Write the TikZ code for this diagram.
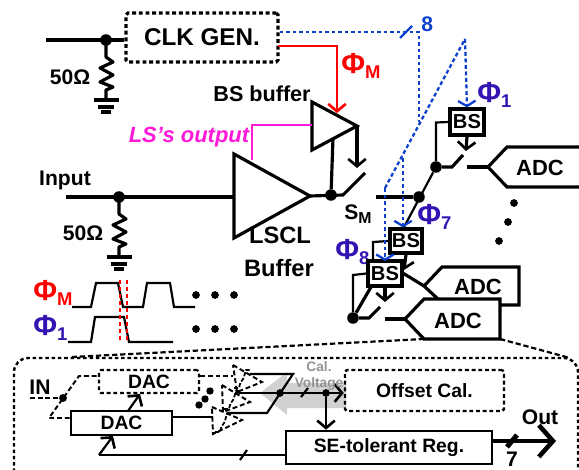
\documentclass[tikz,border=0pt]{standalone}
\usepackage{fontspec}
\setmainfont{Liberation Sans}
\usepackage{xcolor}
\usetikzlibrary{arrows.meta}
\newcommand{\phisub}[1]{{\fontsize{16.5}{16.5}\selectfont Φ}{\fontsize{10.5}{10.5}\selectfont\raisebox{-0.5ex}{#1}}}
\newcommand{\fs}[1]{\fontsize{#1}{#1}\selectfont\bfseries}

\begin{document}
\begin{tikzpicture}
    [%%%%%%%%%%%%%%%%%%%%%%%%%%%%%%
        x=0.02cm,y=-0.02cm,
        wire/.style={line width=1.8pt},
        thinwire/.style={line width=1.25pt},
        tip/.style={-{Straight Barb[length=4.2pt,width=10pt,line width=1.5pt]}},
        box/.style={rectangle,draw=black,line width=1.8pt,fill=white,inner sep=0pt,font=\fs{11}},
        dashbox/.style={box,dash pattern=on 2.2pt off 1.6pt,rounded corners=1pt},
        lab/.style={inner sep=0pt,font=\fs{12}},
        dot/.style={circle,fill=black,inner sep=0pt,minimum size=#1},
        dot/.default=6.6pt,
        clkline/.style={blueclk,line width=1.3pt,dash pattern=on 2.2pt off 1.5pt},
        fine/.style={line width=1.1pt,dash pattern=on 2.8pt off 1.6pt},
        res/.pic={\draw[wire,line join=round] (0,0) -- (0,17) -- (7,22) -- (-6,28) -- (7,35) -- (-6,42) -- (7,47) -- (0,50) -- (0,60);
            \draw[line width=2pt] (-12.5,60) -- (12.5,60) (-8,67) -- (8,67);
            \draw[line width=2.4pt] (-5,72) -- (5,72);},
        squiggle/.pic={\draw[line width=1pt,dash pattern=on 2.4pt off 1pt] (-8,9) -- (-3,9) .. controls (-2,3) and (0,2) .. (1,0) .. controls (3,-2) and (2,-6) .. (4,-9) -- (8,-9);}
    ]%%%%%%%%%%%%%%%%%%%%%%%%%%%%%%
\definecolor{blueclk}{rgb}{0.05, 0.25, 0.8}
\definecolor{phiblue}{rgb}{0.2, 0.08, 0.7}
\definecolor{lsmag}{rgb}{1.0, 0.1, 0.85}
\definecolor{calgray}{rgb}{0.82, 0.82, 0.82}
\useasboundingbox (0,0) rectangle (579,470);

% callout
\coordinate (calltl) at (14,358);
\coordinate (calltr) at (578,358);
\draw[line width=1.4pt,dash pattern=on 2pt off 1.6pt,rounded corners=8pt] (14,472) -- (calltl) -- (calltr) -- (578,472);

% gray arrow
\fill[calgray] (260,393) -- (287,372) -- (287,383) -- (346,383) -- (346,408) -- (287,408) -- (287,415) -- cycle;

% clock generator
\node[dashbox,minimum width=3.04cm,minimum height=0.98cm,font=\fs{13.8}] (clkgen) at (202,37.5) {CLK GEN.};
\coordinate (clkin) at (46,40);
\node[dot] (clknode) at (106,40) {};
\draw[wire] (clkin) -- (clkin -| clkgen.west);
\pic at (clknode) {res};
\node[lab] (clkres) at (70,77) {50Ω};

% input and buffers
\node[lab] (inlabel) at (65,180) {Input};
\coordinate (inpin) at (66,197);
\coordinate (lsa) at (234,154);
\coordinate (lsb) at (234,238);
\coordinate (lsc) at (310,196);
\draw[wire,line join=miter] (lsa) -- (lsc) -- (lsb) -- cycle;
\node[dot] (innode) at (119,197) {};
\draw[wire] (inpin) -- (234,197);
\pic at (innode) {res};
\node[lab] (inres) at (83,233) {50Ω};
\node[lab,font=\fs{13.5}] at (280,235) {LSCL};
\node[lab,font=\fs{13.5}] at (279,268) {Buffer};
\coordinate (bsa) at (312,102);
\coordinate (bsb) at (312,150);
\coordinate (bsc) at (357,126);
\draw[wire] (bsa) -- (bsc) -- (bsb) -- cycle;
\node[lab,font=\fs{12.3},anchor=east] at (311,94) {BS buffer};
\node[lab,text=lsmag,font=\fontsize{12.5}{12.5}\selectfont\bfseries\itshape] at (189,137) {LS’s output};
\draw[lsmag,line width=1.6pt] (252,160) -- (252,125) -- (312,125);
\draw[red,line width=1.3pt,tip] (278,46) -- (337,46) -- (337,113);
\node[lab,text=red,anchor=west] at (341,66) {\phisub{M}};

% master switch
\node[dot] (sumnode) at (331,195) {};
\coordinate (swm) at (343,195);
\draw[wire] (lsc) -- (swm) -- (365,173);
\draw[wire] (333,138) -- (sumnode);
\draw[wire,tip] (bsc) -- (357,168);
\node[lab,anchor=west] at (344,214) {S\fontsize{9}{9}\selectfont\raisebox{-0.4ex}{M}};

% channels
\node[box,minimum width=0.68cm,minimum height=0.52cm] (bsone) at (467,122) {\fs{11.5}BS};
\node[dot] (phinode) at (419,197) {};
\node[dot] (oneode) at (436,167) {};
\coordinate (swone) at (452,167);
\draw[wire] (376,197) -- (phinode);
\draw[thinwire] (bsone.west) -- (436,122.5) -- (oneode);
\draw[wire] (oneode) -- (swone) -- (463,155);
\draw[wire,tip] (bsone.south) -- (466,151);
\draw[thinwire] (oneode) -- (403,229);
\node[lab,text=phiblue,anchor=west] at (477,95) {\phisub{1}};
\node[lab,text=phiblue,anchor=west] at (417,217) {\phisub{7}};
\node[lab,text=phiblue,anchor=west] at (335,252) {\phisub{8}};

% adc one
\coordinate (adconetip) at (488,167);
\draw[wire] (467,167) -- (adconetip);
\draw[wire] (579,147) -- (507,147) -- (adconetip) -- (507,187) -- (579,187);
\node[lab,font=\fs{12.5}] (adcone) at (540,168) {ADC};
\foreach \x/\y in {514/203,508/222,499/241}{
    \node[dot=4.4pt] at (\x,\y) {};
}

% lower bs boxes
\node[box,minimum width=0.64cm,minimum height=0.48cm] (bstwo) at (406,241) {\fs{11.5}BS};
\draw[thinwire] (bstwo.west) -- (373,242) -- (373,262);
\draw[wire,tip] (bstwo.south) -- (404,270);
\node[box,minimum width=0.68cm,minimum height=0.5cm] (bsthree) at (385,273.5) {\fs{11.5}BS};
\node[dot] (lownode) at (353,318) {};
\draw[thinwire] (bsthree.west) -- (353,275) -- (lownode);
\draw[wire] (lownode) -- (371,287);
\draw[wire] (lownode) -- (369,318) -- (380,307);
\draw[wire,tip] (bsthree.south) -- (385,302);

% adc two and three
\draw[wire] (bsthree.east) -- (424,286);
\draw[wire,line join=miter] (438,299) -- (424,286) -- (442,267) -- (519,267) -- (519,305) -- (500,305);
\node[lab,font=\fs{12.5}] (adctwo) at (478,287) {ADC};
\draw[wire,line join=miter,fill=white] (405,319) -- (424,299) -- (500,299) -- (500,339) -- (424,339) -- cycle;
\draw[wire] (385,319) -- (405,319);
\node[lab,font=\fs{12.5}] (adcthree) at (458,321) {ADC};
\draw[thinwire,dash pattern=on 3pt off 1.6pt] (424,339) -- (72,357);
\draw[thinwire,dash pattern=on 3pt off 1.6pt] (500,339) -- (570,358);

% clock lines
\coordinate (clkbus) at (419,32);
\coordinate (clkcross) at (465,39);
\coordinate (clkbend) at (385,188);
\draw[clkline] (clkgen.east |- clkbus) -- (clkbus) -- (419,122);
\draw[clkline,solid] (400,38) -- (412,26);
\node[lab,text=blueclk,anchor=west] at (421,24) {8};
\draw[clkline] (clkbend) -- (clkcross);
\draw[clkline,-{Straight Barb[length=3pt,width=10pt]}] (clkcross) -- (bsone.north);
\draw[clkline,-{Straight Barb[length=3pt,width=10pt]}] (403,158) -- (bstwo.north -| 403,0);
\draw[clkline,-{Straight Barb[length=3pt,width=10pt]}] (clkbend) -- (385,261);

% waveforms
\node[lab,text=red,anchor=west] at (33,293) {\phisub{M}};
\node[lab,text=phiblue,anchor=west] at (33,328) {\phisub{1}};
\draw[thinwire] (72,307) -- (91,307) -- (96,283) -- (118,283) -- (123,307) -- (143,307) -- (147,283) -- (170,283) -- (174,307) -- (195,307);
\draw[thinwire] (68,342) -- (91,342) -- (95,317) -- (124,317) -- (129,342) -- (173,342);
\draw[red,line width=1.3pt,dash pattern=on 2.4pt off 1.6pt] (120,280) -- (120,341) (127,280) -- (127,341);
\foreach \y in {295,329}{
    \foreach \x in {196,215,234}{
        \node[dot=4.4pt] at (\x,\y) {};
    }
}

% calibration loop
\node[dashbox,line width=1.2pt,minimum width=2cm,minimum height=0.46cm,fill=none,font=\fs{11}] (dactop) at (149,381.5) {DAC};
\node[box,line width=1.5pt,minimum width=2.02cm,minimum height=0.48cm,font=\fs{11}] (daclow) at (121.5,423) {DAC};
\node[lab,font=\fs{12}] (inlab) at (40,387) {IN};
\coordinate (inl) at (30,398);
\node[dot=4.5pt] (innodeb) at (63,398) {};
\coordinate (swa) at (49,418);
\coordinate (swb) at (79,376);
\draw[fine] (inl) -- (innodeb);
\draw[fine] (daclow.west |- swa) -- (swa) -- (swb) -- (dactop.west |- swb);
\draw[fine] (dactop.east |- swb) -- (233,376);
\draw[thinwire,tip] (128,411) -- (140,394);
\coordinate (fbcorner) at (99,455);
\draw[thinwire,tip] (fbcorner) -- (113,436);
\node[box,line width=1.5pt,minimum width=4.12cm,minimum height=0.66cm] (reg) at (389,447.5) {SE-tolerant Reg.};
\draw[thinwire] (fbcorner) -- (reg.west |- fbcorner);
\draw[thinwire] (240,460) -- (247,450);
\draw[thinwire] (daclow.east |- 0,417) -- (213,417);

\foreach \a/\b/\c/\u/\v in {233/365/262/382/237,222/385/250/402/223,212/407/242/420/213}{
    \draw[fine,line join=miter] (\a,\b) -- (\c,\u) -- (\v,\b+27) -- cycle;
}
\pic at (242,379) {squiggle};
\pic at (232,400) {squiggle};
\pic at (223,423) {squiggle};

\coordinate (cmpa) at (250,374);
\coordinate (cmpb) at (293,374);
\coordinate (cmpc) at (267,413);
\coordinate (cmpd) at (227,413);
\draw[thinwire] (cmpa) -- (cmpb) -- (cmpc) -- (cmpd);
\foreach \x/\y in {210/391,205/399,199/405}{
    \node[dot=4.2pt] at (\x,\y) {};
}
\node[dot=4.4pt] (sumcal) at (280,393) {};
\node[dot=4.4pt] (regtap) at (326,393) {};
\node[dashbox,line width=1.4pt,minimum width=3.18cm,minimum height=0.82cm,fill=none,font=\fs{11}] (offset) at (424.5,390.5) {Offset Cal.};
\draw[thinwire,tip] (235,393) -- (offset.west |- 0,393);
\draw[thinwire] (301,397) -- (308,388);
\draw[thinwire,tip] (regtap) -- (reg.north -| regtap);
\node[inner sep=0pt,text=gray!85,font=\fontsize{7.8}{7.8}\selectfont\bfseries] (calone) at (319,367) {Cal.};
\node[inner sep=0pt,text=gray!85,font=\fontsize{7.8}{7.8}\selectfont\bfseries] (caltwo) at (319,384) {Voltage};

% output
\coordinate (outend) at (556,441);
\draw[line width=2.6pt,-{Straight Barb[length=8pt,width=18pt,line width=2.6pt]}] (reg.east |- outend) -- (outend);
\draw[line width=2.8pt] (507,447) -- (517,435);
\node[lab,font=\fs{12}] (outlab) at (540,417) {Out};
\node[lab,font=\fs{12}] (seven) at (512,459) {7};

\end{tikzpicture}
\end{document}
